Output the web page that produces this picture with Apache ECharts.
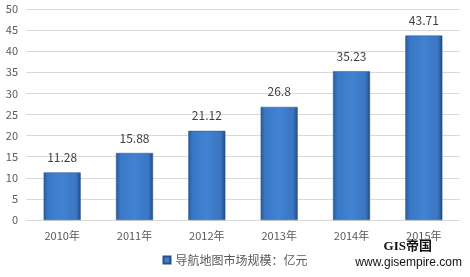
<!DOCTYPE html>
<html><head><meta charset="utf-8">
<script src="https://cdn.jsdelivr.net/npm/echarts@6/dist/echarts.min.js"></script>
<style>html,body{margin:0;padding:0;background:#fff}#c{width:470px;height:277px}</style>
</head><body><div id="c"></div>
<script>
var categories = ['2010年','2011年','2012年','2013年','2014年','2015年'];
var values = [11.28, 15.88, 21.12, 26.8, 35.23, 43.71];
var seriesName = '导航地图市场规模：亿元';
var chart = echarts.init(document.getElementById('c'));
var barColor = new echarts.graphic.LinearGradient(0,0,1,0,[
  {offset:0,color:'#2B5A99'},{offset:0.12,color:'#3A78C6'},{offset:0.5,color:'#4182D2'},
  {offset:0.88,color:'#3A76C2'},{offset:1,color:'#1F4A82'}]);
chart.setOption({
  animation:false,
  textStyle:{fontFamily:'"Noto Sans CJK SC", "DejaVu Sans", sans-serif'},
  grid:{left:26,right:10,top:9,bottom:57},
  xAxis:{type:'category',data:categories,
    axisLine:{lineStyle:{color:'#D9D9D9'}},axisTick:{show:false},
    axisLabel:{color:'#595959',fontSize:11,margin:10}},
  yAxis:{type:'value',min:0,max:50,interval:5,
    axisLine:{show:false},axisTick:{show:false},
    splitLine:{lineStyle:{color:'#D9D9D9'}},
    axisLabel:{color:'#595959',fontSize:11,margin:8}},
  legend:{bottom:6,left:'center',icon:'rect',itemWidth:7,itemHeight:7,itemGap:4,
    textStyle:{color:'#595959',fontSize:12},data:[seriesName]},
  series:[{name:seriesName,type:'bar',data:values,barWidth:37,
    itemStyle:{color:barColor,borderColor:'#24508C',borderWidth:0.5},
    label:{show:true,position:'top',distance:9,color:'#404040',fontSize:12}}],
  graphic:[
    {type:'text',right:38,bottom:24,style:{text:'GIS帝国',fill:'#111',font:'bold 13px "Liberation Serif", "Noto Sans CJK SC", serif'}},
    {type:'text',right:8,bottom:8,style:{text:'www.gisempire.com',fill:'#111',font:'12px "Liberation Sans", Arial, sans-serif'}}
  ]
});
</script></body></html>
